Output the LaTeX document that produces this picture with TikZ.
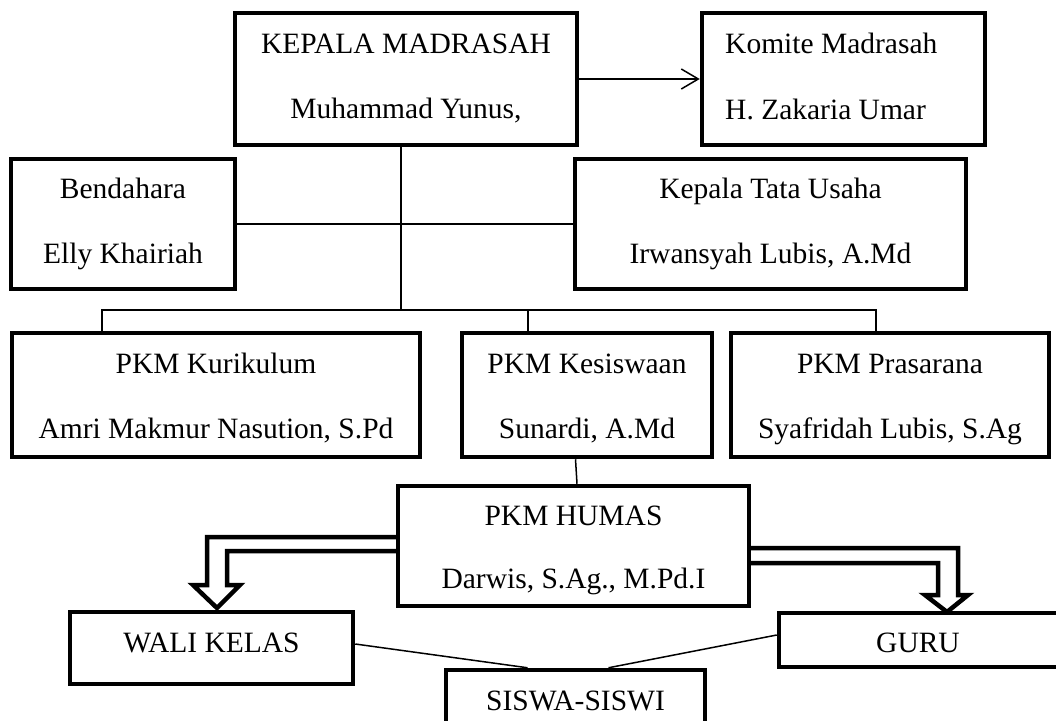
\documentclass[tikz,border=0pt]{standalone}
\usepackage{fontspec}
\setmainfont{Liberation Serif}
\usetikzlibrary{arrows.meta,calc}
\begin{document}
\begin{tikzpicture}[x=1pt,y=-1pt,
  box/.style={draw=black,line width=4.5pt,fill=white,inner sep=0pt},
  txt/.style={anchor=base,inner sep=0pt,font=\fontsize{29.5}{35}\selectfont},
  conn/.style={draw=black,line width=1.5pt},
  dbl/.style={draw=black,line width=4.5pt,line join=miter,line cap=rect}]
\useasboundingbox (0,0) rectangle (1056,720);
% boxes
\node[box,minimum width=342pt,minimum height=132pt] (kepala) at (406,79) {};
\node[box,minimum width=283pt,minimum height=132pt] (komite) at (843.5,79) {};
\node[box,minimum width=224pt,minimum height=130pt] (bend) at (123,224) {};
\node[box,minimum width=391pt,minimum height=130pt] (tu) at (770.5,224) {};
\node[box,minimum width=408pt,minimum height=124pt] (kur) at (216,395) {};
\node[box,minimum width=250pt,minimum height=124pt] (kes) at (587,395) {};
\node[box,minimum width=318pt,minimum height=124pt] (pra) at (890,395) {};
\node[box,minimum width=351pt,minimum height=120pt] (humas) at (573.5,546) {};
\node[box,minimum width=283pt,minimum height=72pt] (wali) at (211.5,648) {};
\node[box,minimum width=281pt,minimum height=54pt] (guru) at (919.5,640) {};
\node[box,minimum width=259pt,minimum height=70pt] (siswa) at (575.5,705) {};
% texts
\node[txt] (t1) at (406,53) {KEPALA MADRASAH};
\node[txt] (t2) at (406,118) {Muhammad Yunus,};
\node[txt,anchor=base west] (t3) at (725,53) {Komite Madrasah};
\node[txt,anchor=base west] (t4) at (725,119) {H. Zakaria Umar};
\node[txt] (t5) at (123,198) {Bendahara};
\node[txt] (t6) at (123,263) {Elly Khairiah};
\node[txt] (t7) at (770.5,198) {Kepala Tata Usaha};
\node[txt] (t8) at (770.5,263) {Irwansyah Lubis, A.Md};
\node[txt] (t9) at (216,373) {PKM Kurikulum};
\node[txt] (t10) at (216,438) {Amri Makmur Nasution, S.Pd};
\node[txt] (t11) at (587,373) {PKM Kesiswaan};
\node[txt] (t12) at (587,438) {Sunardi, A.Md};
\node[txt] (t13) at (890,373) {PKM Prasarana};
\node[txt] (t14) at (890,438) {Syafridah Lubis, S.Ag};
\node[txt] (t15) at (573.5,525) {PKM HUMAS};
\node[txt] (t16) at (573.5,588) {Darwis, S.Ag., M.Pd.I};
\node[txt] (t17) at (211.5,652) {WALI KELAS};
\node[txt] (t18) at (918,652) {GURU};
\node[txt] (t19) at (575.5,710) {SISWA-SISWI};
% connectors
\draw[conn,-{Straight Barb[length=17pt,width=20pt,line width=1.5pt]}] (kepala.east) -- (komite.west);
\coordinate (bus) at (401,310);
\draw[conn] (kepala.south -| bus) -- (bus);
\draw[conn] (bend.east) -- (tu.west);
\draw[conn] (kur.north -| 102,0) |- (bus) -| (pra.north -| 876,0);
\draw[conn] (kes.north -| 528,0) -- (528,310);
\draw[conn] (kes.south -| 575.5,0) -- (humas.north -| 577,0);
\draw[conn] ($(wali.east)+(0,-4)$) -- ($(siswa.north)+(-48,0)$);
\draw[conn] ($(guru.west)+(0,-5)$) -- ($(siswa.north)+(33,0)$);
% double arrows
\draw[dbl] ($(humas.west)+(0,-9)$) -| (207,585) -- (193,585) -- (217,608) -- (240,585) -- (227,585) |- ($(humas.west)+(0,5)$);
\draw[dbl] ($(humas.east)+(0,2)$) -| (958,595) -- (968,595) -- (947,612) -- (925,595) -- (938,595) |- ($(humas.east)+(0,17)$);
\end{tikzpicture}
\end{document}
